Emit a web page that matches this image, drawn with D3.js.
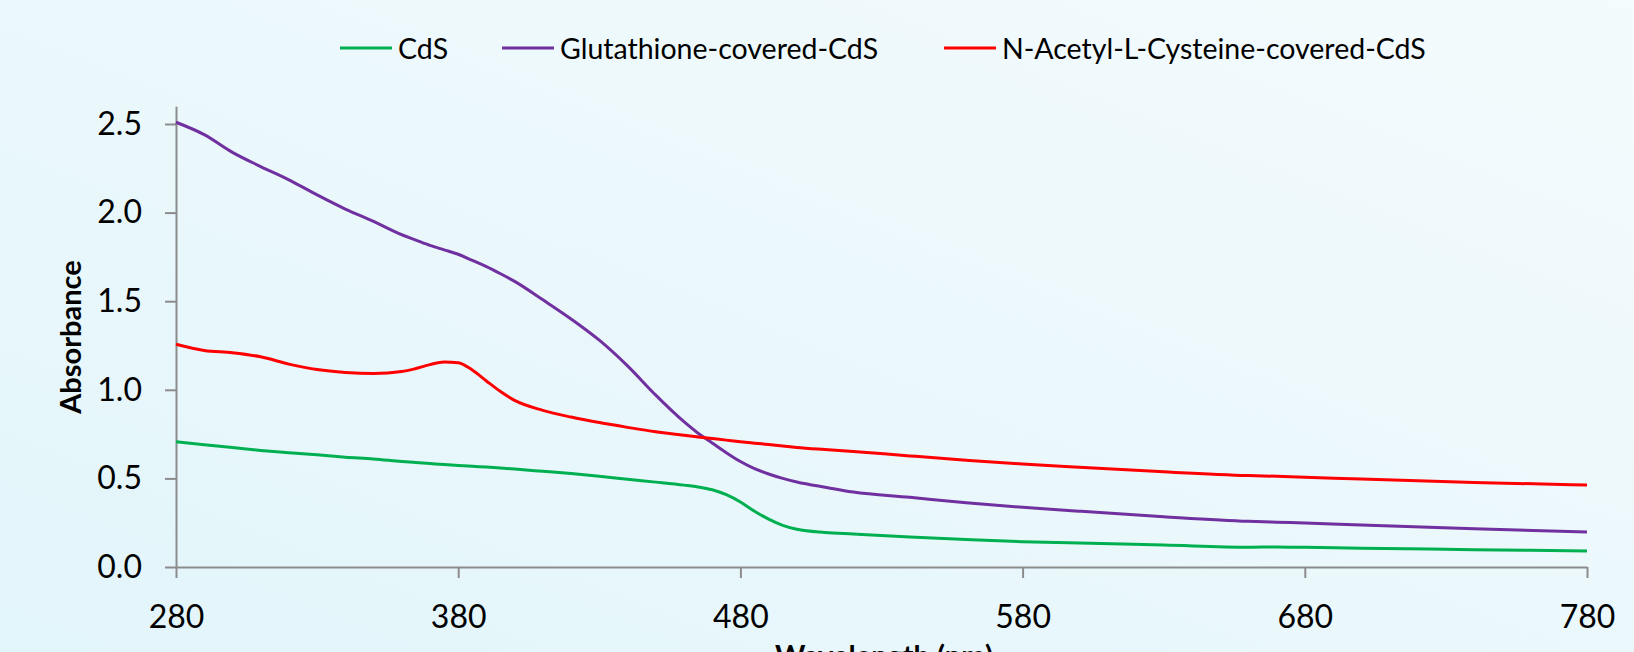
<!DOCTYPE html>
<html>
<head>
<meta charset="utf-8">
<script src="https://cdn.jsdelivr.net/npm/d3@7"></script>
<style>
  html, body { margin: 0; padding: 0; }
  body { width: 1634px; height: 652px; overflow: hidden; }
  svg { display: block; }
</style>
</head>
<body>
<svg id="chart" width="1634" height="652"></svg>
<script>
// ---- Data ----
const wavelengths = [280,290,300,310,320,330,340,350,360,365,370,375,380,385,390,395,400,410,420,430,440,450,460,465,470,475,480,485,490,495,500,510,520,540,560,580,600,630,660,670,680,700,740,780];

const cdsValues = [0.707,0.690,0.674,0.658,0.645,0.633,0.620,0.610,0.596,0.590,0.584,0.578,0.573,0.568,0.564,0.559,0.553,0.540,0.527,0.512,0.495,0.479,0.462,0.452,0.436,0.408,0.367,0.315,0.270,0.235,0.213,0.195,0.186,0.169,0.155,0.143,0.135,0.124,0.112,0.113,0.111,0.106,0.098,0.090];

const glutathioneValues = [2.51,2.44,2.34,2.26,2.185,2.10,2.02,1.95,1.875,1.845,1.815,1.79,1.765,1.73,1.695,1.655,1.612,1.508,1.40,1.28,1.135,0.97,0.82,0.755,0.70,0.645,0.595,0.555,0.525,0.50,0.48,0.45,0.423,0.393,0.362,0.337,0.315,0.284,0.258,0.253,0.249,0.237,0.216,0.198];

const nacValues = [1.257,1.222,1.209,1.186,1.145,1.114,1.098,1.092,1.103,1.12,1.142,1.157,1.153,1.112,1.05,0.99,0.94,0.884,0.846,0.815,0.788,0.763,0.743,0.734,0.725,0.716,0.707,0.699,0.691,0.683,0.675,0.663,0.652,0.627,0.603,0.581,0.563,0.537,0.516,0.512,0.507,0.496,0.477,0.463];

const seriesNames = ["CdS", "Glutathione-covered-CdS", "N-Acetyl-L-Cysteine-covered-CdS"];
const seriesColors = ["#00b050", "#7030a0", "#ff0000"];
const xTicks = [280, 380, 480, 580, 680, 780];
const yTicks = [0, 0.5, 1.0, 1.5, 2.0, 2.5];
const xTitle = "Wavelength (nm)";
const yTitle = "Absorbance";

const seriesValues = [cdsValues, glutathioneValues, nacValues];

// ---- Layout ----
const svg = d3.select("#chart");
const W = 1634, H = 652;
const plot = { left: 176, right: 1587, bottom: 567 };
const pxPerUnit = 177.2;

const x = d3.scaleLinear().domain([280, 780]).range([plot.left, plot.right]);
const y = d3.scaleLinear().domain([0, 2.6]).range([plot.bottom, plot.bottom - 2.6 * pxPerUnit]);

// Background gradient
const defs = svg.append("defs");
const grad = defs.append("linearGradient").attr("id", "bg")
  .attr("x1", "0%").attr("y1", "100%").attr("x2", "100%").attr("y2", "0%");
grad.append("stop").attr("offset", "0%").attr("stop-color", "#e2f5fa");
grad.append("stop").attr("offset", "100%").attr("stop-color", "#f4fbfd");
svg.append("rect").attr("width", W).attr("height", H).attr("fill", "url(#bg)");

const font = "Lato, 'Open Sans', sans-serif";
const axisColor = "#8c8c8c";

// Axes
const xAxis = d3.axisBottom(x).tickValues(xTicks).tickSize(11).tickSizeOuter(0).tickPadding(27)
  .tickFormat(d3.format("d"));
const gx = svg.append("g").attr("transform", `translate(0,${plot.bottom})`).call(xAxis);

const yAxis = d3.axisLeft(y).tickValues(yTicks).tickSize(11).tickSizeOuter(0).tickPadding(23)
  .tickFormat(d3.format(".1f"));
const gy = svg.append("g").attr("transform", `translate(${plot.left},0)`).call(yAxis);

[gx, gy].forEach(g => {
  g.select(".domain").attr("stroke", axisColor).attr("stroke-width", 2);
  g.selectAll(".tick line").attr("stroke", axisColor).attr("stroke-width", 2);
  g.selectAll(".tick text").attr("fill", "#000").style("font-family", font).style("font-size", "32px");
});

// Lines
const line = d3.line()
  .x((d, i) => x(wavelengths[i]))
  .y(d => y(d))
  .curve(d3.curveMonotoneX);

seriesValues.forEach((vals, k) => {
  svg.append("path")
    .datum(vals)
    .attr("fill", "none")
    .attr("stroke", seriesColors[k])
    .attr("stroke-width", 3)
    .attr("stroke-linejoin", "round")
    .attr("d", line);
});

// Axis titles
svg.append("text")
  .attr("x", 884).attr("y", 666)
  .attr("text-anchor", "middle")
  .style("font-family", font).style("font-size", "29px").style("font-weight", "bold")
  .text(xTitle);

svg.append("text")
  .attr("transform", "translate(81,337) rotate(-90)")
  .attr("text-anchor", "middle")
  .style("font-family", font).style("font-size", "29px").style("font-weight", "bold")
  .text(yTitle);

// Legend
const legendX = [340, 502, 944];
const legend = svg.append("g");
seriesNames.forEach((name, k) => {
  legend.append("line")
    .attr("x1", legendX[k]).attr("x2", legendX[k] + 52)
    .attr("y1", 48).attr("y2", 48)
    .attr("stroke", seriesColors[k]).attr("stroke-width", 3);
  legend.append("text")
    .attr("x", legendX[k] + 58).attr("y", 59)
    .style("font-family", font).style("font-size", "28.5px")
    .attr("fill", "#000")
    .text(name);
});
</script>
</body>
</html>
